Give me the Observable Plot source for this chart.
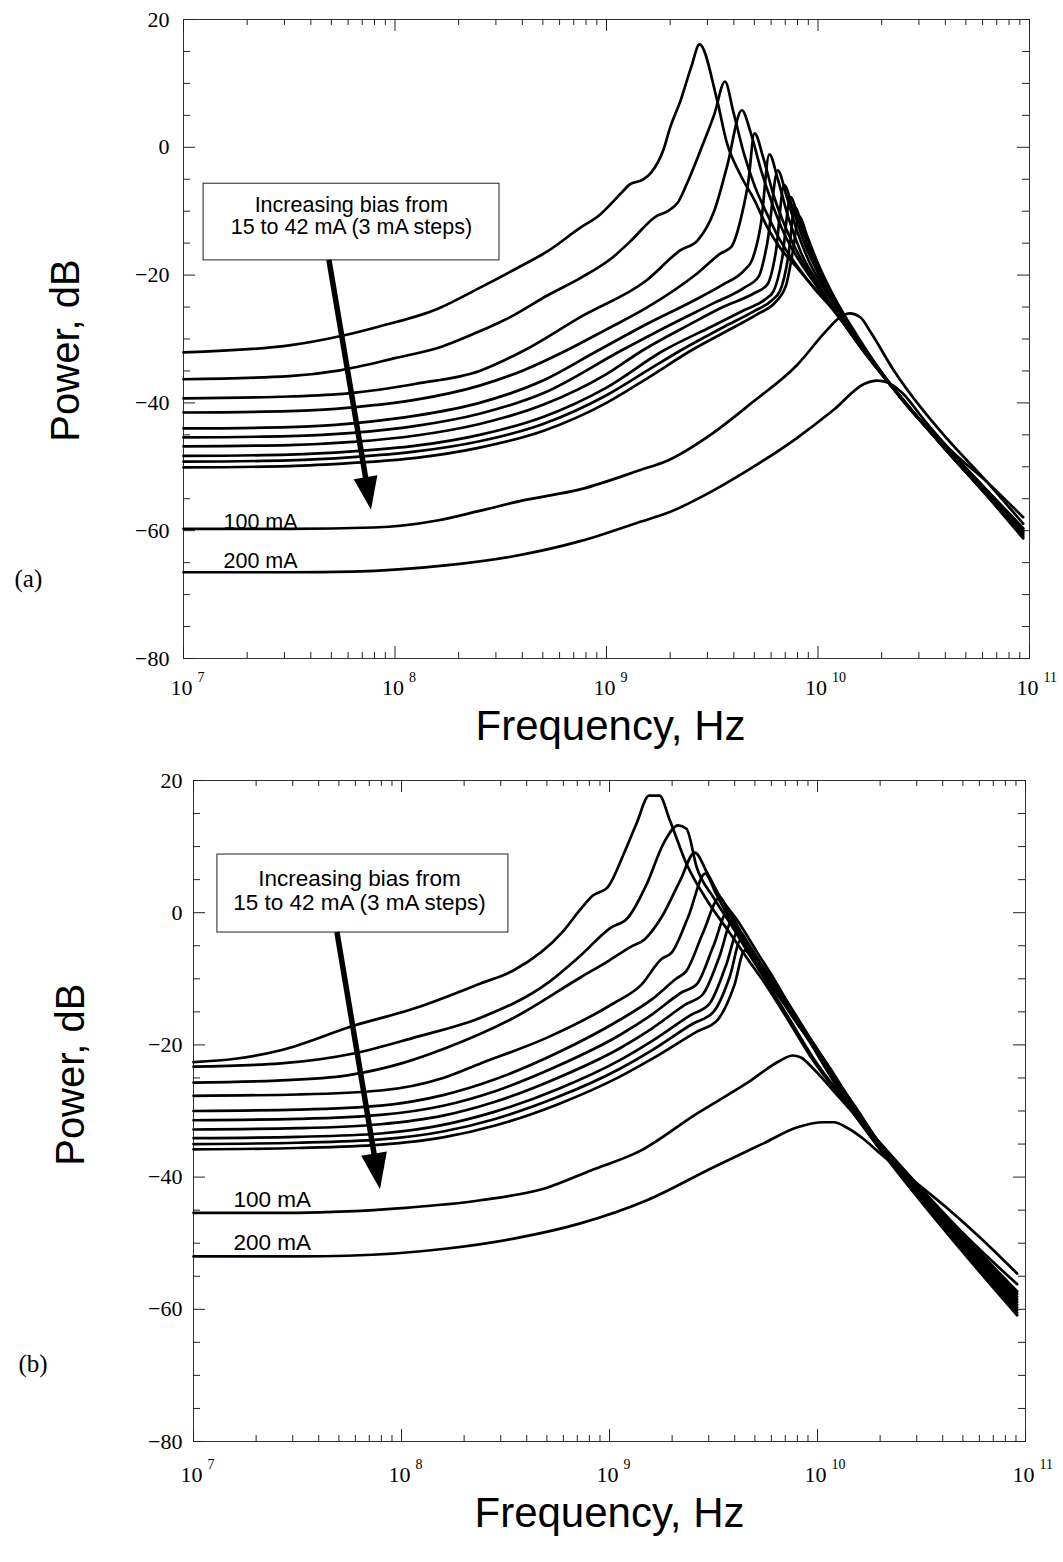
<!DOCTYPE html>
<html><head><meta charset="utf-8">
<script src="https://cdn.jsdelivr.net/npm/d3@7"></script>
<script src="https://cdn.jsdelivr.net/npm/@observablehq/plot@0.6"></script>
<style>
body{margin:0;background:#fff;}
svg{display:block;}
g[aria-label="ylabels"] text{letter-spacing:4px;}
g[aria-label="xlabels"] text{letter-spacing:5px;}
</style></head><body><div id="chart"></div><script>
// ---- series labels ----
const currents = ["15 mA","18 mA","21 mA","24 mA","27 mA","30 mA","33 mA","36 mA","39 mA","42 mA","100 mA","200 mA"];
// ---- panel (a): [log10(frequency/Hz), power dB] ----
const a15 = [[7.0,-32.1],[7.5,-31.0],[7.75,-29.5],[7.93,-28.0],[8.2,-25.3],[8.4,-22.0],[8.6,-18.5],[8.72,-16.3],[8.88,-12.5],[8.96,-10.8],[9.08,-6.8],[9.11,-5.8],[9.17,-5.1],[9.21,-4.0],[9.27,-0.3],[9.3,3.0],[9.35,7.3],[9.4,12.5],[9.44,16.1],[9.52,7.8],[9.57,0.6],[9.63,-4.1],[9.70,-8.3],[9.76,-12.5],[9.82,-15.7],[9.90,-18.8],[9.98,-21.9],[10.07,-25.1],[10.2,-31.0],[10.41,-39.8],[10.6,-47.2],[10.8,-54.6],[10.97,-61.2]];
const a18 = [[7.0,-36.3],[7.5,-35.8],[7.74,-34.9],[8.0,-33.0],[8.22,-31.2],[8.4,-28.8],[8.56,-26.3],[8.72,-23.2],[8.88,-20.4],[9.03,-17.2],[9.11,-14.8],[9.24,-10.7],[9.29,-10.0],[9.34,-8.5],[9.38,-5.7],[9.45,0.0],[9.51,5.2],[9.56,10.3],[9.6,5.5],[9.65,-1.0],[9.70,-6.0],[9.76,-10.5],[9.82,-14.5],[9.90,-18.5],[9.98,-22.0],[10.07,-25.4],[10.2,-31.1],[10.41,-39.8],[10.6,-47.2],[10.8,-54.5],[10.97,-61.0]];
const a21 = [[7.0,-39.3],[7.5,-39.0],[7.78,-38.5],[8.1,-37.0],[8.4,-35.0],[8.61,-31.8],[8.88,-26.5],[9.19,-20.8],[9.35,-16.1],[9.43,-14.6],[9.51,-9.9],[9.57,-3.0],[9.64,5.8],[9.68,2.5],[9.73,-3.5],[9.78,-8.5],[9.84,-13.5],[9.92,-18.2],[10.0,-22.0],[10.08,-25.5],[10.2,-31.2],[10.41,-39.9],[10.6,-47.1],[10.8,-54.4],[10.97,-60.8]];
const a24 = [[7.0,-41.5],[7.5,-41.3],[7.8,-40.7],[8.1,-39.5],[8.4,-37.3],[8.6,-35.0],[8.81,-31.8],[9.0,-28.5],[9.19,-25.1],[9.43,-19.7],[9.54,-16.6],[9.59,-15.6],[9.64,-10.5],[9.67,-5.5],[9.70,2.2],[9.74,-1.5],[9.79,-7.5],[9.85,-12.8],[9.92,-17.5],[10.0,-21.8],[10.08,-25.6],[10.2,-31.2],[10.41,-39.9],[10.6,-47.1],[10.8,-54.3],[10.97,-60.6]];
const a27 = [[7.0,-44.0],[7.5,-43.8],[7.8,-43.2],[8.1,-42.0],[8.4,-40.0],[8.7,-36.5],[8.96,-31.8],[9.2,-27.5],[9.4,-24.2],[9.55,-21.5],[9.65,-19.3],[9.69,-17.5],[9.73,-12.0],[9.77,-1.1],[9.81,-5.0],[9.86,-11.0],[9.92,-16.5],[10.0,-21.3],[10.08,-25.5],[10.2,-31.2],[10.41,-39.9],[10.6,-47.1],[10.8,-54.2],[10.97,-60.4]];
const a30 = [[7.0,-45.4],[7.5,-45.2],[7.8,-44.7],[8.1,-43.6],[8.4,-41.7],[8.7,-38.5],[9.07,-31.8],[9.3,-27.8],[9.5,-24.5],[9.65,-22.0],[9.72,-20.2],[9.76,-15.0],[9.81,-3.6],[9.85,-7.5],[9.9,-13.0],[9.96,-18.0],[10.03,-22.2],[10.1,-25.8],[10.2,-30.9],[10.41,-39.9],[10.6,-47.0],[10.8,-54.1],[10.97,-60.2]];
const a33 = [[7.0,-46.8],[7.5,-46.6],[7.8,-46.1],[8.1,-45.1],[8.4,-43.3],[8.7,-40.3],[9.0,-35.5],[9.17,-31.8],[9.4,-27.6],[9.55,-25.0],[9.7,-22.8],[9.76,-21.5],[9.8,-16.5],[9.84,-5.9],[9.88,-9.5],[9.93,-14.5],[9.99,-19.0],[10.05,-23.0],[10.12,-26.6],[10.2,-30.8],[10.41,-39.9],[10.6,-46.9],[10.8,-54.0],[10.97,-60.0]];
const a36 = [[7.0,-48.3],[7.5,-48.1],[7.8,-47.6],[8.1,-46.7],[8.4,-45.0],[8.7,-42.2],[9.0,-37.6],[9.27,-31.8],[9.5,-28.0],[9.65,-25.5],[9.75,-23.8],[9.79,-22.5],[9.83,-17.5],[9.87,-7.8],[9.91,-11.5],[9.96,-16.0],[10.02,-20.5],[10.08,-24.3],[10.14,-27.6],[10.22,-31.6],[10.41,-40.0],[10.6,-46.9],[10.8,-53.9],[10.97,-59.9]];
const a39 = [[7.0,-49.2],[7.5,-49.0],[7.8,-48.5],[8.1,-47.6],[8.4,-46.0],[8.7,-43.3],[9.0,-38.8],[9.2,-34.8],[9.35,-31.8],[9.55,-28.2],[9.7,-25.6],[9.78,-24.0],[9.82,-22.5],[9.86,-17.0],[9.89,-9.4],[9.93,-12.8],[9.98,-17.3],[10.04,-21.6],[10.1,-25.3],[10.16,-28.5],[10.24,-32.4],[10.41,-40.0],[10.6,-46.8],[10.8,-53.8],[10.97,-59.7]];
const a42 = [[7.0,-50.1],[7.5,-49.9],[7.8,-49.4],[8.1,-48.6],[8.4,-47.0],[8.7,-44.4],[9.0,-40.0],[9.2,-36.0],[9.4,-31.8],[9.6,-28.2],[9.72,-26.0],[9.8,-24.2],[9.85,-21.5],[9.88,-16.5],[9.91,-10.8],[9.95,-14.0],[10.0,-18.2],[10.06,-22.4],[10.12,-26.0],[10.18,-29.2],[10.25,-32.8],[10.41,-40.0],[10.6,-46.7],[10.8,-53.7],[10.97,-59.6]];
const a100 = [[7.0,-59.7],[7.5,-59.7],[7.9,-59.5],[8.2,-58.4],[8.4,-56.9],[8.6,-55.3],[8.88,-53.5],[9.16,-50.5],[9.29,-49.0],[9.5,-44.8],[9.69,-39.9],[9.9,-34.1],[10.04,-28.7],[10.1,-26.7],[10.15,-26.0],[10.2,-26.6],[10.25,-29.0],[10.36,-35.0],[10.5,-41.3],[10.61,-45.6],[10.8,-52.4],[10.97,-58.9]];
const a200 = [[7.0,-66.5],[7.5,-66.5],[7.8,-66.4],[8.25,-65.4],[8.56,-64.0],[8.88,-61.6],[9.16,-58.6],[9.29,-57.2],[9.5,-53.8],[9.69,-50.1],[9.9,-45.5],[10.07,-41.2],[10.22,-37.0],[10.28,-36.5],[10.33,-36.8],[10.4,-38.5],[10.5,-42.6],[10.61,-46.8],[10.8,-52.4],[10.97,-57.9]];
// ---- panel (b) ----
const b15 = [[7.0,-22.6],[7.2,-22.1],[7.42,-20.8],[7.77,-17.1],[8.06,-14.5],[8.38,-10.7],[8.54,-8.7],[8.78,-2.7],[8.86,0.5],[8.92,2.6],[8.99,3.8],[9.07,9.0],[9.13,13.5],[9.19,17.7],[9.24,17.7],[9.29,14.0],[9.37,7.4],[9.47,1.8],[9.57,-2.7],[9.66,-6.8],[9.76,-11.3],[9.86,-16.3],[9.98,-22.4],[10.14,-29.0],[10.3,-35.8],[10.5,-43.8],[10.7,-51.4],[10.96,-60.9]];
const b18 = [[7.0,-23.3],[7.42,-22.8],[7.77,-21.3],[8.06,-18.9],[8.38,-15.9],[8.7,-10.7],[8.86,-6.5],[9.0,-2.4],[9.09,-0.7],[9.18,4.4],[9.26,10.5],[9.33,13.2],[9.37,12.7],[9.42,6.8],[9.5,2.3],[9.58,-1.6],[9.66,-5.7],[9.76,-10.7],[9.86,-15.8],[9.98,-22.0],[10.14,-28.8],[10.3,-35.7],[10.5,-43.6],[10.7,-51.1],[10.96,-60.5]];
const b21 = [[7.0,-25.7],[7.4,-25.4],[7.74,-24.6],[8.0,-22.8],[8.22,-20.4],[8.54,-15.9],[8.86,-9.8],[9.0,-7.2],[9.1,-5.2],[9.17,-4.0],[9.25,-0.7],[9.34,4.9],[9.41,9.1],[9.47,6.0],[9.53,2.5],[9.62,-1.4],[9.71,-6.0],[9.8,-10.5],[9.9,-16.0],[10.0,-21.5],[10.14,-28.6],[10.3,-35.6],[10.5,-43.4],[10.7,-50.8],[10.96,-60.1]];
const b24 = [[7.0,-27.7],[7.5,-27.5],[7.9,-26.9],[8.2,-25.0],[8.38,-22.8],[8.7,-18.9],[9.02,-13.7],[9.15,-11.0],[9.25,-7.0],[9.3,-6.0],[9.38,-0.5],[9.46,5.9],[9.51,3.0],[9.57,-0.5],[9.65,-4.5],[9.74,-8.5],[9.83,-13.0],[9.92,-17.5],[10.02,-22.3],[10.14,-28.4],[10.3,-35.5],[10.5,-43.2],[10.7,-50.5],[10.96,-59.7]];
const b27 = [[7.0,-30.0],[7.5,-29.8],[7.9,-29.2],[8.2,-27.6],[8.45,-25.2],[8.75,-21.2],[9.05,-16.2],[9.2,-13.2],[9.32,-10.0],[9.37,-8.8],[9.45,-3.0],[9.53,2.3],[9.58,-0.5],[9.64,-3.8],[9.72,-7.5],[9.8,-11.3],[9.9,-16.3],[10.02,-22.0],[10.14,-28.2],[10.3,-35.4],[10.5,-43.0],[10.7,-50.2],[10.96,-59.3]];
const b30 = [[7.0,-31.4],[7.5,-31.2],[7.9,-30.6],[8.2,-29.2],[8.45,-27.0],[8.75,-23.2],[9.05,-18.5],[9.2,-15.5],[9.35,-12.0],[9.42,-10.8],[9.5,-5.0],[9.57,0.3],[9.62,-2.3],[9.68,-5.5],[9.75,-8.8],[9.83,-12.6],[9.92,-17.0],[10.03,-22.3],[10.14,-28.0],[10.3,-35.3],[10.5,-42.8],[10.7,-49.9],[10.96,-58.9]];
const b33 = [[7.0,-32.8],[7.5,-32.6],[7.9,-32.0],[8.2,-30.7],[8.45,-28.6],[8.75,-25.0],[9.05,-20.5],[9.2,-17.6],[9.37,-13.8],[9.45,-12.3],[9.53,-6.5],[9.59,-1.2],[9.64,-3.5],[9.7,-6.5],[9.77,-9.7],[9.85,-13.5],[9.94,-17.8],[10.04,-22.8],[10.15,-28.2],[10.3,-35.2],[10.5,-42.6],[10.7,-49.6],[10.96,-58.5]];
const b36 = [[7.0,-34.1],[7.5,-33.9],[7.9,-33.4],[8.2,-32.1],[8.45,-30.1],[8.75,-26.7],[9.05,-22.3],[9.2,-19.5],[9.39,-15.5],[9.48,-13.8],[9.56,-8.0],[9.62,-2.7],[9.67,-4.8],[9.73,-7.8],[9.8,-11.0],[9.88,-14.7],[9.96,-18.8],[10.06,-23.5],[10.16,-28.5],[10.3,-35.1],[10.5,-42.4],[10.7,-49.3],[10.96,-58.1]];
const b39 = [[7.0,-35.0],[7.5,-34.8],[7.9,-34.3],[8.2,-33.1],[8.45,-31.2],[8.75,-27.9],[9.05,-23.6],[9.2,-20.9],[9.4,-16.8],[9.5,-15.0],[9.58,-9.5],[9.63,-4.2],[9.68,-6.2],[9.74,-9.0],[9.81,-12.2],[9.89,-15.8],[9.98,-19.8],[10.07,-24.2],[10.17,-28.9],[10.3,-35.0],[10.5,-42.2],[10.7,-49.0],[10.96,-57.7]];
const b42 = [[7.0,-35.8],[7.5,-35.6],[7.9,-35.1],[8.2,-34.0],[8.45,-32.2],[8.75,-29.0],[9.05,-24.8],[9.2,-22.2],[9.42,-18.0],[9.52,-16.2],[9.6,-11.0],[9.65,-5.7],[9.7,-7.6],[9.76,-10.3],[9.83,-13.4],[9.9,-16.7],[9.99,-20.6],[10.08,-24.8],[10.18,-29.3],[10.3,-34.9],[10.5,-42.0],[10.7,-48.8],[10.96,-57.3]];
const b100 = [[7.0,-45.4],[7.5,-45.4],[7.74,-45.2],[8.0,-44.7],[8.38,-43.5],[8.7,-41.6],[8.91,-39.0],[9.15,-36.0],[9.42,-30.4],[9.66,-25.8],[9.82,-22.4],[9.88,-21.6],[9.92,-21.9],[9.98,-23.6],[10.1,-27.8],[10.3,-34.8],[10.5,-41.8],[10.7,-48.5],[10.96,-56.2]];
const b200 = [[7.0,-52.0],[7.5,-52.0],[7.74,-51.9],[8.22,-50.8],[8.54,-49.3],[8.86,-47.0],[9.18,-43.5],[9.5,-38.5],[9.74,-34.9],[9.9,-32.5],[10.03,-31.7],[10.08,-31.7],[10.14,-32.5],[10.22,-34.2],[10.3,-36.4],[10.46,-40.5],[10.62,-44.6],[10.78,-49.1],[10.96,-54.6]];
// ---- axis ticks ----
const decades = [1e7, 1e8, 1e9, 1e10, 1e11];
const minorMult = [2,3,4,5,6,7,8,9];
const yLabelled = [-80,-60,-40,-20,0,20];
const yMinorTicks = [-75,-70,-65,-55,-50,-45,-35,-30,-25,-15,-10,-5,5,10,15];
const boxLines = ["Increasing bias from", "15 to 42 mA (3 mA steps)"];

const seriesA = [a15,a18,a21,a24,a27,a30,a33,a36,a39,a42,a100,a200];
const seriesB = [b15,b18,b21,b24,b27,b30,b33,b36,b39,b42,b100,b200];
const minorTicks = decades.slice(0,4).flatMap(d => minorMult.map(m => d*m));
function toRows(list){ return list.flatMap((pts,i)=>pts.map(([l,p])=>({f:Math.pow(10,l), p, s:currents[i]}))); }

const NS = "http://www.w3.org/2000/svg";
function arrowMark(x1,y1,x2,y2,headLen,headHalf,w){
  return (index, scales) => {
    const X1=scales.x(x1), Y1=scales.y(y1), X2=scales.x(x2), Y2=scales.y(y2);
    const dx=X2-X1, dy=Y2-Y1, L=Math.hypot(dx,dy), ux=dx/L, uy=dy/L;
    const bx=X2-ux*headLen, by=Y2-uy*headLen, px=-uy, py=ux;
    const g=document.createElementNS(NS,"g");
    const ln=document.createElementNS(NS,"line");
    ln.setAttribute("x1",X1); ln.setAttribute("y1",Y1);
    ln.setAttribute("x2",bx+ux*2); ln.setAttribute("y2",by+uy*2);
    ln.setAttribute("stroke","black"); ln.setAttribute("stroke-width",w);
    const pg=document.createElementNS(NS,"polygon");
    pg.setAttribute("points",`${X2},${Y2} ${bx+px*headHalf},${by+py*headHalf} ${bx-px*headHalf},${by-py*headHalf}`);
    pg.setAttribute("fill","black");
    g.appendChild(ln); g.appendChild(pg);
    return g;
  };
}

function panel(o){
  const fw = o.width - o.ml - o.mr, fh = o.height - o.mt - o.mb;
  const rows = toRows(o.series);
  const serif = "'Liberation Serif','Times New Roman',serif";
  const sans = "'Liberation Sans',Arial,sans-serif";
  const narrow = "'Liberation Sans Narrow','Liberation Sans',Arial,sans-serif";
  const marks = [
    Plot.frame({stroke:"#333", strokeWidth:1}),
    Plot.tickX(decades, {stroke:"#222", insetTop: fh-12}),
    Plot.tickX(minorTicks, {stroke:"#222", insetTop: fh-6}),
    Plot.tickX(decades, {stroke:"#222", insetBottom: fh-12}),
    Plot.tickX(minorTicks, {stroke:"#222", insetBottom: fh-6}),
    Plot.tickY(yLabelled, {stroke:"#222", insetRight: fw-12}),
    Plot.tickY(yMinorTicks, {stroke:"#222", insetRight: fw-7}),
    Plot.tickY(yLabelled, {stroke:"#222", insetLeft: fw-12}),
    Plot.tickY(yMinorTicks, {stroke:"#222", insetLeft: fw-7}),
    Plot.text(yLabelled, {y:d=>d, text:d=> d<0 ? "\u2212"+Math.abs(d) : String(d), frameAnchor:"left", dx:o.ylabDx, textAnchor:"end", lineAnchor:"middle", fontFamily:serif, fontSize:22, ariaLabel:"ylabels"}),
    Plot.text(decades, {x:d=>d, text:d=>"10", frameAnchor:"bottom", lineAnchor:"middle", dy:o.xlabDy, dx:-2, fontFamily:serif, fontSize:22, ariaLabel:"xlabels"}),
    Plot.text(decades, {x:d=>d, text:d=>String(Math.round(Math.log10(d))), frameAnchor:"bottom", lineAnchor:"middle", dy:o.xlabDy-10, dx:14, textAnchor:"start", fontFamily:serif, fontSize:14}),
    Plot.line(rows, {x:"f", y:"p", z:"s", stroke:"black", strokeWidth:2.7, curve:"monotone-x"}),
    Plot.rect([0], {x1:o.box[0], x2:o.box[1], y1:o.box[2], y2:o.box[3], fill:"white", stroke:"#222", strokeWidth:1}),
    Plot.text([boxLines[0]], {x:o.boxText[0], y:o.boxText[1], text:d=>d, fontFamily:sans, fontSize:o.boxFs}),
    Plot.text([boxLines[1]], {x:o.boxText[0], y:o.boxText[2], text:d=>d, fontFamily:sans, fontSize:o.boxFs}),
    Plot.text([currents[10]], {x:o.lab[0], y:o.lab[1], text:d=>d, textAnchor:"start", fontFamily:sans, fontSize:o.boxFs}),
    Plot.text([currents[11]], {x:o.lab[0], y:o.lab[2], text:d=>d, textAnchor:"start", fontFamily:sans, fontSize:o.boxFs}),
    Plot.text([o.tag], {y:o.tagY, text:d=>d, frameAnchor:"left", dx:o.tagDx, textAnchor:"start", lineAnchor:"middle", fontFamily:serif, fontSize:25}),
    Plot.text(["Power, dB"], {y:o.ytitleY, text:d=>d, frameAnchor:"left", dx:o.ytitleDx, rotate:-90, textAnchor:"middle", lineAnchor:"middle", fontFamily:narrow, fontSize:40, ariaLabel:"ytitle"}),
    Plot.text(["Frequency, Hz"], {text:d=>d, frameAnchor:"bottom", lineAnchor:"middle", textAnchor:"middle", dy:o.xtitleDy, dx:o.xtitleDx, fontFamily:narrow, fontSize:42, ariaLabel:"xtitle"})
  ];
  const opts = (arrowMarks) => ({
    width:o.width, height:o.height, marginTop:o.mt, marginBottom:o.mb, marginLeft:o.ml, marginRight:o.mr,
    x:{type:"log", domain:[1e7,1e11], axis:null},
    y:{domain:[-80,20], axis:null},
    style:{background:"white", overflow:"visible"},
    marks:[...marks, ...arrowMarks]
  });
  const a = o.arrow;
  let svg;
  try {
    svg = Plot.plot(opts([arrowMark(a[0],a[1],a[2],a[3],o.head[0],o.head[1],5.5)]));
  } catch(e) {
    svg = Plot.plot(opts([Plot.arrow([0],{x1:a[0],y1:a[1],x2:a[2],y2:a[3],strokeWidth:5,headLength:28})]));
  }
  d3.select(svg).selectAll('g[aria-label="xtitle"] text').attr("textLength", o.xtitleLen).attr("lengthAdjust","spacingAndGlyphs");
  d3.select(svg).selectAll('g[aria-label="ytitle"] text').attr("textLength", o.ytitleLen).attr("lengthAdjust","spacingAndGlyphs");
  return svg;
}

const root = document.getElementById("chart");
root.appendChild(panel({
  series: seriesA, width:1063, height:770, mt:19, mb:112, ml:183, mr:34,
  ylabDx:-14, xlabDy:29, tag:"(a)", tagY:-67.5, tagDx:-169,
  ytitleY:-31.8, ytitleDx:-117, ytitleLen:168,
  xtitleDy:68, xtitleDx:4, xtitleLen:254,
  box:[Math.pow(10,7.095), Math.pow(10,8.494), -5.7, -17.7],
  boxText:[Math.pow(10,7.794), -9.1, -12.55], boxFs:21.5,
  lab:[Math.pow(10,7.189), -58.6, -64.8],
  arrow:[Math.pow(10,7.69), -17.7, Math.pow(10,7.889), -56.8], head:[33,12]
}));
root.appendChild(panel({
  series: seriesB, width:1063, height:792, mt:10, mb:121, ml:193, mr:38,
  ylabDx:-11, xlabDy:33, tag:"(b)", tagY:-68.2, tagDx:-175,
  ytitleY:-24.5, ytitleDx:-122, ytitleLen:172,
  xtitleDy:72, xtitleDx:0, xtitleLen:256,
  box:[Math.pow(10,7.115), Math.pow(10,8.514), 8.8, -3.0],
  boxText:[Math.pow(10,7.798), 5.17, 1.55], boxFs:22.5,
  lab:[Math.pow(10,7.192), -43.5, -49.9],
  arrow:[Math.pow(10,7.692), -3.0, Math.pow(10,7.899), -41.9], head:[36,13]
}));
</script></body></html>
